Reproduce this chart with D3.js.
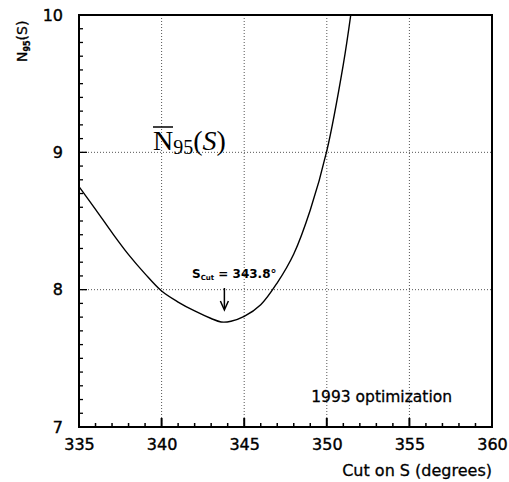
<!DOCTYPE html>
<html><head><meta charset="utf-8">
<script src="https://cdn.jsdelivr.net/npm/d3@7"></script>
<style>body{margin:0;background:#fff}svg{display:block}</style>
</head><body>
<script>
const cutS = [335, 336, 337, 338, 339, 340, 341, 342, 343, 343.6, 344.2, 345, 346, 347, 348, 349, 350, 351, 351.45];
const n95  = [8.75, 8.585, 8.415, 8.255, 8.115, 7.99, 7.91, 7.845, 7.79, 7.765, 7.77, 7.805, 7.89, 8.05, 8.26, 8.58, 9.01, 9.64, 10.0];
const xTicks = [335, 340, 345, 350, 355, 360];
const yTicks = [7, 8, 9, 10];
const xGrid = [340, 345, 350, 355];
const yGrid = [8, 9];
const sCut = 343.8;

const W = 509, H = 482;
const svg = d3.select("body").append("svg").attr("width", W).attr("height", H);
const x = d3.scaleLinear().domain([335, 360]).range([79, 492]);
const y = d3.scaleLinear().domain([7, 10]).range([427, 15]);
const font = "DejaVu Sans, sans-serif";

// grid
svg.append("g").selectAll("line").data(xGrid).join("line")
  .attr("x1", d => x(d)).attr("x2", d => x(d)).attr("y1", y(10)).attr("y2", y(7))
  .attr("stroke", "#555").attr("stroke-width", 1).attr("stroke-dasharray", "1,2");
svg.append("g").selectAll("line").data(yGrid).join("line")
  .attr("x1", x(335)).attr("x2", x(360)).attr("y1", d => y(d)).attr("y2", d => y(d))
  .attr("stroke", "#555").attr("stroke-width", 1).attr("stroke-dasharray", "1,2");

// curve
svg.append("clipPath").attr("id", "clip").append("rect")
  .attr("x", x(335)).attr("y", y(10)).attr("width", x(360) - x(335)).attr("height", y(7) - y(10));
const pts = cutS.map((s, i) => [s, n95[i]]);
svg.append("path").datum(pts).attr("clip-path", "url(#clip)")
  .attr("d", d3.line().x(d => x(d[0])).y(d => y(d[1])).curve(d3.curveCatmullRom.alpha(0.5)))
  .attr("fill", "none").attr("stroke", "#000").attr("stroke-width", 1.4);

// axes
const xAxis = d3.axisBottom(x).tickValues(xTicks).tickSize(0).tickPadding(12).tickFormat(d3.format("d"));
const gx = svg.append("g").attr("transform", `translate(0,${y(7)})`).call(xAxis);
gx.select(".domain").remove();
gx.selectAll("text").attr("font-family", font).attr("font-size", 16).attr("fill", "#000")
  .attr("stroke", "#000").attr("stroke-width", 0.4);
const yAxis = d3.axisLeft(y).tickValues(yTicks).tickSize(0).tickPadding(16).tickFormat(d3.format("d"));
const gy = svg.append("g").attr("transform", `translate(${x(335)},0)`).call(yAxis);
gy.select(".domain").remove();
gy.selectAll("text").attr("font-family", font).attr("font-size", 16).attr("fill", "#000")
  .attr("stroke", "#000").attr("stroke-width", 0.4);

// inside ticks
const xMinor = d3.range(336, 360, 1);
svg.append("g").selectAll("line").data(xMinor).join("line")
  .attr("x1", d => x(d)).attr("x2", d => x(d)).attr("y1", y(7)).attr("y2", d => y(7) - (d % 5 === 0 ? 9 : 4))
  .attr("stroke", "#000").attr("stroke-width", d => d % 5 === 0 ? 2 : 1.5);
const yMinor = d3.range(71, 100, 1).map(v => v / 10);
svg.append("g").selectAll("line").data(yMinor).join("line")
  .attr("y1", d => y(d)).attr("y2", d => y(d)).attr("x1", x(335)).attr("x2", d => x(335) + (Math.abs(d - Math.round(d)) < 1e-6 ? 8 : 4))
  .attr("stroke", "#000").attr("stroke-width", 1.3);

// frame
svg.append("rect").attr("x", x(335)).attr("y", y(10)).attr("width", x(360) - x(335)).attr("height", y(7) - y(10))
  .attr("fill", "none").attr("stroke", "#000").attr("stroke-width", 2);

// axis titles
svg.append("text").attr("x", x(360)).attr("y", 476).attr("text-anchor", "end")
  .attr("font-family", font).attr("font-size", 16).attr("stroke", "#000").attr("stroke-width", 0.3)
  .text("Cut on S (degrees)");
const yl = svg.append("text").attr("transform", "translate(27,62) rotate(-90)")
  .attr("font-family", font).attr("font-size", 14).attr("stroke", "#000").attr("stroke-width", 0.3);
yl.append("tspan").text("N");
yl.append("tspan").attr("font-size", 8).attr("font-weight", "bold").attr("dy", 3).text("95");
yl.append("tspan").attr("dy", -3).text("(S)");

// label 1993
svg.append("text").attr("x", 452).attr("y", 402).attr("text-anchor", "end")
  .attr("font-family", font).attr("font-size", 15.5).attr("stroke", "#000").attr("stroke-width", 0.3)
  .text("1993 optimization");

// big formula label
const bl = svg.append("text").attr("x", 153).attr("y", 150)
  .attr("font-family", "Liberation Serif, serif").attr("font-size", 28);
bl.append("tspan").text("N");
bl.append("tspan").attr("font-size", 20).attr("dy", 4).text("95");
bl.append("tspan").attr("dy", -4).text("(");
bl.append("tspan").attr("font-style", "italic").text("S");
bl.append("tspan").text(")");
svg.append("line").attr("x1", 153).attr("x2", 173).attr("y1", 127).attr("y2", 127)
  .attr("stroke", "#000").attr("stroke-width", 1.5);

// S_cut annotation
const an = svg.append("text").attr("x", 192).attr("y", 278)
  .attr("font-family", font).attr("font-size", 12).attr("font-weight", "bold");
an.append("tspan").text("S");
an.append("tspan").attr("font-size", 7).attr("dy", 2).text("Cut");
an.append("tspan").attr("dy", -2).text(" = 343.8°");
svg.append("line").attr("x1", x(sCut)).attr("x2", x(sCut)).attr("y1", 288).attr("y2", 308)
  .attr("stroke", "#000").attr("stroke-width", 1.5);
svg.append("path").attr("d", `M${x(sCut) - 4},${301} L${x(sCut)},${310} L${x(sCut) + 4},${301}`)
  .attr("fill", "none").attr("stroke", "#000").attr("stroke-width", 1.5);
</script>
</body></html>
